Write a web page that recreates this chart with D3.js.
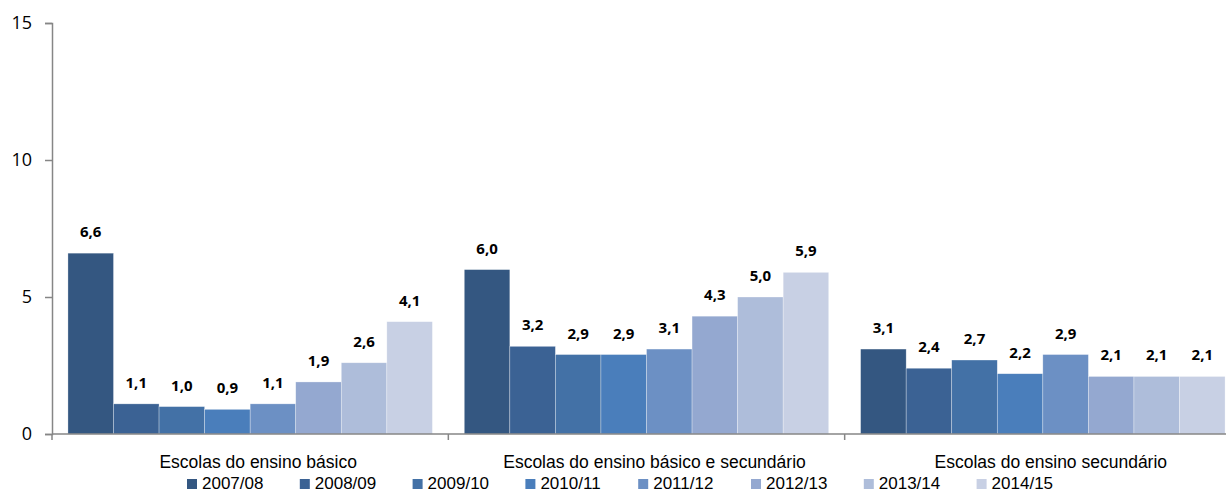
<!DOCTYPE html>
<html lang="pt">
<head>
<meta charset="UTF-8" />
<title>Escolas</title>
<style>
  body { margin: 0; background: #fff; }
  svg { display: block; font-family: "Open Sans", sans-serif; }
</style>
</head>
<body>
<script src="https://cdn.jsdelivr.net/npm/d3@7"></script>
<div id="app"></div>
<script>
// data
const categories = ["Escolas do ensino básico", "Escolas do ensino básico e secundário", "Escolas do ensino secundário"];
const years = ["2007/08", "2008/09", "2009/10", "2010/11", "2011/12", "2012/13", "2013/14", "2014/15"];
const basico = [6.6, 1.1, 1.0, 0.9, 1.1, 1.9, 2.6, 4.1];
const basicoSec = [6.0, 3.2, 2.9, 2.9, 3.1, 4.3, 5.0, 5.9];
const secundario = [3.1, 2.4, 2.7, 2.2, 2.9, 2.1, 2.1, 2.1];
const yTicks = [0, 5, 10, 15];
const colors = ["#345781", "#3b6294", "#4371a6", "#4a7ebb", "#6c90c4", "#94a8d0", "#aebdda", "#c8d0e4"];

const series = [basico, basicoSec, secundario];

const w = 1226, h = 493;
const svg = d3.select("#app").append("svg")
  .attr("width", w)
  .attr("height", h);

// scales
const x0 = d3.scaleBand().domain(categories).range([52, 1241]).paddingInner(0).paddingOuter(0);
const x1 = d3.scaleBand().domain(years).range([0, x0.bandwidth()]).paddingOuter(0.35).paddingInner(0);
const y = d3.scaleLinear().domain([0, 15]).range([434, 23]);
const color = d3.scaleOrdinal().domain(years).range(colors);

// bars
const groups = svg.selectAll("g.grp")
  .data(categories)
  .enter().append("g")
  .attr("class", "grp")
  .attr("transform", d => "translate(" + x0(d) + ",0)");

groups.selectAll("rect")
  .data((c, i) => years.map((yr, j) => ({ yr: yr, v: series[i][j] })))
  .enter().append("rect")
  .attr("x", d => x1(d.yr))
  .attr("y", d => y(d.v))
  .attr("width", x1.bandwidth())
  .attr("height", d => y(0) - y(d.v))
  .attr("fill", d => color(d.yr))
  .attr("stroke", "#ffffff")
  .attr("stroke-width", 0.6)
  .attr("stroke-opacity", 0.5);

groups.selectAll("text.lbl")
  .data((c, i) => years.map((yr, j) => ({ yr: yr, v: series[i][j] })))
  .enter().append("text")
  .attr("class", "lbl")
  .attr("x", d => x1(d.yr) + x1.bandwidth() / 2)
  .attr("y", d => y(d.v) - 16)
  .attr("text-anchor", "middle")
  .style("font-size", "15px")
  .style("font-weight", "bold")
  .attr("fill", "#000")
  .text(d => d3.format(".1f")(d.v).replace(".", ","));

// y axis
const yAxis = svg.append("g")
  .attr("transform", "translate(52,0)")
  .call(d3.axisLeft(y).tickValues(yTicks).tickSize(7).tickPadding(13).tickFormat(d3.format("d")));
yAxis.select(".domain").attr("stroke", "#868686").attr("stroke-width", 1.5);
yAxis.selectAll(".tick line").attr("stroke", "#868686").attr("stroke-width", 1.5);
yAxis.selectAll(".tick text").style("font-size", "18px").attr("fill", "#000").style("font-family", "'Open Sans', sans-serif");

// x axis
const xAxis = svg.append("g").attr("transform", "translate(0,434)");
xAxis.append("line")
  .attr("x1", 52).attr("x2", 1241)
  .attr("stroke", "#868686").attr("stroke-width", 1.5);
xAxis.selectAll("line.tk")
  .data(categories)
  .enter().append("line")
  .attr("class", "tk")
  .attr("x1", d => x0(d)).attr("x2", d => x0(d))
  .attr("y1", 0).attr("y2", 6)
  .attr("stroke", "#868686").attr("stroke-width", 1.5);
xAxis.selectAll("text")
  .data(categories)
  .enter().append("text")
  .attr("x", d => x0(d) + x0.bandwidth() / 2 + 8)
  .attr("y", 34)
  .attr("text-anchor", "middle")
  .style("font-size", "17.5px")
  .style("font-family", "'Liberation Sans', sans-serif")
  .attr("fill", "#000")
  .text(d => d);

// legend
const legend = svg.append("g").attr("transform", "translate(187,477)");
const li = legend.selectAll("g")
  .data(years)
  .enter().append("g")
  .attr("transform", (d, i) => "translate(" + (i * 112.8) + ",0)");
li.append("rect")
  .attr("width", 10).attr("height", 10)
  .attr("y", 2)
  .attr("fill", d => color(d));
li.append("text")
  .attr("x", 15)
  .attr("y", 12)
  .style("font-size", "17px")
  .style("font-family", "'Liberation Sans', sans-serif")
  .attr("fill", "#000")
  .text(d => d);
</script>
</body>
</html>
